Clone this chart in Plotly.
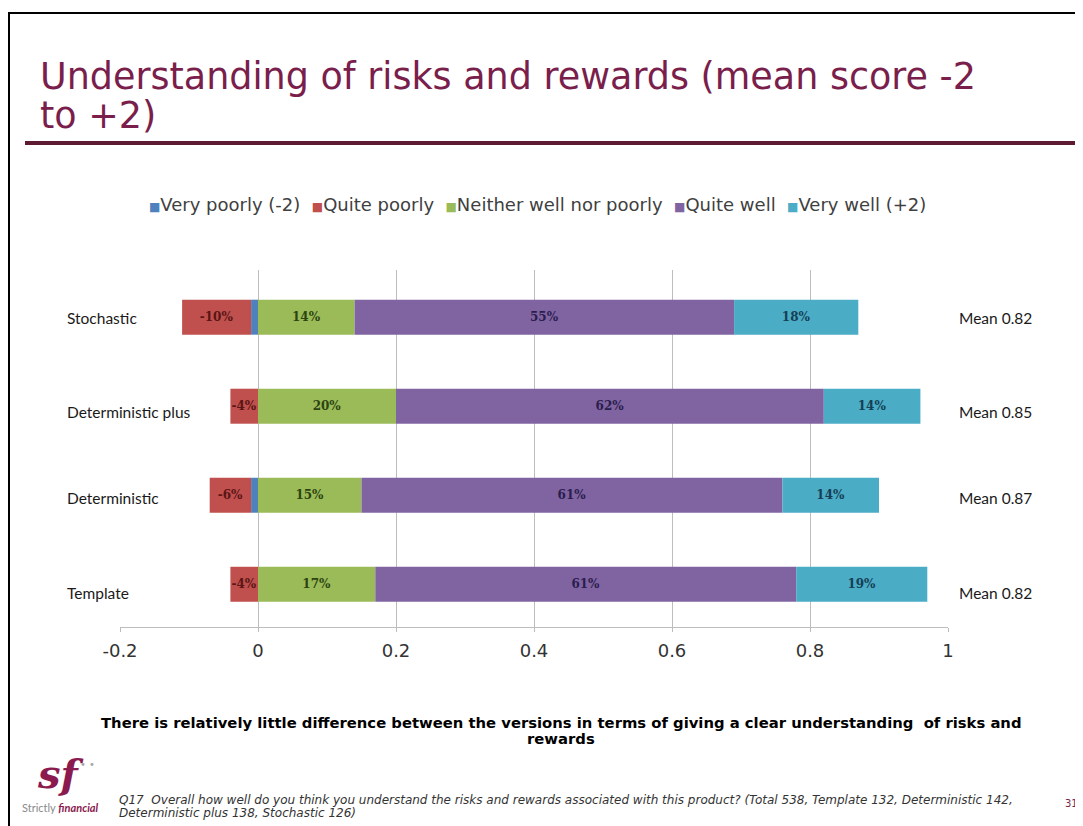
import plotly.graph_objects as go

# survey data (share of respondents, negatives plotted to the left)
categories = ["Template", "Deterministic", "Deterministic plus", "Stochastic"]
very_poorly = [0.0, -0.01, 0.0, -0.01]
quite_poorly = [-0.04, -0.06, -0.04, -0.10]
neither = [0.17, 0.15, 0.20, 0.14]
quite_well = [0.61, 0.61, 0.62, 0.55]
very_well = [0.19, 0.14, 0.14, 0.18]
means = [0.82, 0.87, 0.85, 0.82]
x_ticks = [-0.2, 0, 0.2, 0.4, 0.6, 0.8, 1]
x_tick_labels = ["-0.2", "0", "0.2", "0.4", "0.6", "0.8", "1"]

# page body has an 8px margin, so the figure starts at (8, 8) of the window
OFF = 8
W, H = 1083 - OFF, 826 - OFF
# plot area in window pixels
L, R, T, B = 120, 948, 270, 627
# vertical pixel position of the row labels (Excel spreads them a bit)
label_rows_px = [593, 498, 412, 318]


def fx(px):
    return (px - L) / (R - L)


def fy(py):
    return (B - py) / (B - T)


def pct(vals):
    return [f"{round(v * 100):d}%" for v in vals]


series = [
    ("Very poorly (-2)", very_poorly, "#4F81BD", "#1f3550", False),
    ("Quite poorly", quite_poorly, "#C0504D", "#5a1515", True),
    ("Neither well nor poorly", neither, "#9BBB59", "#2c4510", True),
    ("Quite well", quite_well, "#8064A2", "#2b1d4d", True),
    ("Very well (+2)", very_well, "#4BACC6", "#153f55", True),
]

fig = go.Figure()
for name, vals, col, tcol, show_text in series:
    fig.add_trace(go.Bar(
        y=categories, x=vals, name=name, orientation="h",
        marker=dict(color=col, line=dict(width=0)),
        text=pct(vals) if show_text else None,
        textposition="inside" if show_text else "none",
        insidetextanchor="middle", textangle=0,
        textfont=dict(family="DejaVu Serif", size=12, color=tcol, weight="bold"),
        showlegend=False,
    ))

maroon = "#7A1E4C"
txt = "#1a1a1a"
ann = []
# legend, laid out like the Excel one
legend_parts = []
for name, vals, col, tcol, show_text in series:
    legend_parts.append(f"<span style='color:{col};font-size:12px'>■</span>{name}")
ann.append(dict(x=fx(537), y=fy(204), xref="paper", yref="paper",
                text="&nbsp;&nbsp;".join(legend_parts),
                showarrow=False, xanchor="center", yanchor="middle",
                font=dict(family="DejaVu Sans", size=18, color="#404040")))
# category labels (left aligned) and mean labels
for c, m, ypx in zip(categories, means, label_rows_px):
    ann.append(dict(x=fx(65), y=fy(ypx), xref="paper", yref="paper", text=c, showarrow=False,
                    xanchor="left", yanchor="middle",
                    font=dict(family="Lato", size=15.5, color=txt)))
    ann.append(dict(x=fx(957), y=fy(ypx), xref="paper", yref="paper", text=f"Mean {m:.2f}",
                    showarrow=False, xanchor="left", yanchor="middle",
                    font=dict(family="Lato", size=15.5, color=txt)))
# title (two lines)
for line, ypx in [("Understanding of risks and rewards (mean score -2", 77), ("to +2)", 115)]:
    ann.append(dict(x=fx(38), y=fy(ypx), xref="paper", yref="paper", text=line,
                    showarrow=False, xanchor="left", yanchor="middle",
                    font=dict(family="DejaVu Sans", size=36.5, color=maroon)))
# conclusion
for line, ypx in [("There is relatively little difference between the versions in terms of giving a clear understanding  of risks and", 722),
                  ("rewards", 738)]:
    ann.append(dict(x=fx(561), y=fy(ypx), xref="paper", yref="paper", text=f"<b>{line}</b>",
                    showarrow=False, xanchor="center", yanchor="middle",
                    font=dict(family="DejaVu Sans", size=14.8, color="#000000")))
# footnote
for line, ypx in [("Q17  Overall how well do you think you understand the risks and rewards associated with this product? (Total 538, Template 132, Deterministic 142,", 800),
                  ("Deterministic plus 138, Stochastic 126)", 813)]:
    ann.append(dict(x=fx(117), y=fy(ypx), xref="paper", yref="paper", text=f"<i>{line}</i>",
                    showarrow=False, xanchor="left", yanchor="middle",
                    font=dict(family="DejaVu Sans", size=12, color="#333333")))
# page number
ann.append(dict(x=fx(1071), y=fy(803), xref="paper", yref="paper", text="31",
                showarrow=False, xanchor="center", yanchor="middle",
                font=dict(family="DejaVu Sans", size=10, color=maroon)))
# logo
ann.append(dict(x=fx(60), y=fy(773), xref="paper", yref="paper", text="<b><i>sf</i></b>",
                showarrow=False, xanchor="center", yanchor="middle",
                font=dict(family="DejaVu Serif", size=40, color="#8B1A4F")))
ann.append(dict(x=fx(87), y=fy(764), xref="paper", yref="paper", text="• •",
                showarrow=False, xanchor="center", yanchor="middle",
                font=dict(family="DejaVu Sans", size=10, color="#a8a8a8")))
ann.append(dict(x=fx(60), y=fy(807), xref="paper", yref="paper",
                text="<span style='color:#8a8a8a'>Strictly</span> <b><i>financial</i></b>",
                showarrow=False, xanchor="center", yanchor="middle",
                font=dict(family="Lato", size=11, color="#8B1A4F")))

shapes = [
    # slide frame
    dict(type="rect", xref="paper", yref="paper", x0=fx(9), x1=fx(1095), y0=fy(13), y1=fy(840),
         line=dict(color="#000000", width=2), layer="below"),
    # title rule
    dict(type="line", xref="paper", yref="paper", x0=fx(25), x1=fx(1075), y0=fy(143), y1=fy(143),
         line=dict(color="#5E1A33", width=4)),
]

fig.update_layout(
    width=W, height=H,
    margin=dict(l=L - OFF, r=1083 - R, t=T - OFF, b=826 - B),
    barmode="relative", bargap=0.607,
    paper_bgcolor="white", plot_bgcolor="white",
    showlegend=False,
    uniformtext=dict(minsize=12, mode="show"),
    annotations=ann, shapes=shapes,
)
fig.update_xaxes(range=[-0.2, 1], tickvals=x_ticks, ticktext=x_tick_labels,
                 showgrid=True, gridcolor="#bdbdbd", gridwidth=1,
                 zeroline=True, zerolinecolor="#bdbdbd", zerolinewidth=1,
                 showline=True, linecolor="#bdbdbd", linewidth=1,
                 ticks="outside", ticklen=4, tickcolor="#bdbdbd", ticklabelstandoff=3,
                 tickfont=dict(family="DejaVu Sans", size=18, color="#333333"))
fig.update_yaxes(range=[-0.48, 3.53], showticklabels=False, showgrid=False,
                 zeroline=False, showline=False, ticks="")

fig.write_html("out.html")
